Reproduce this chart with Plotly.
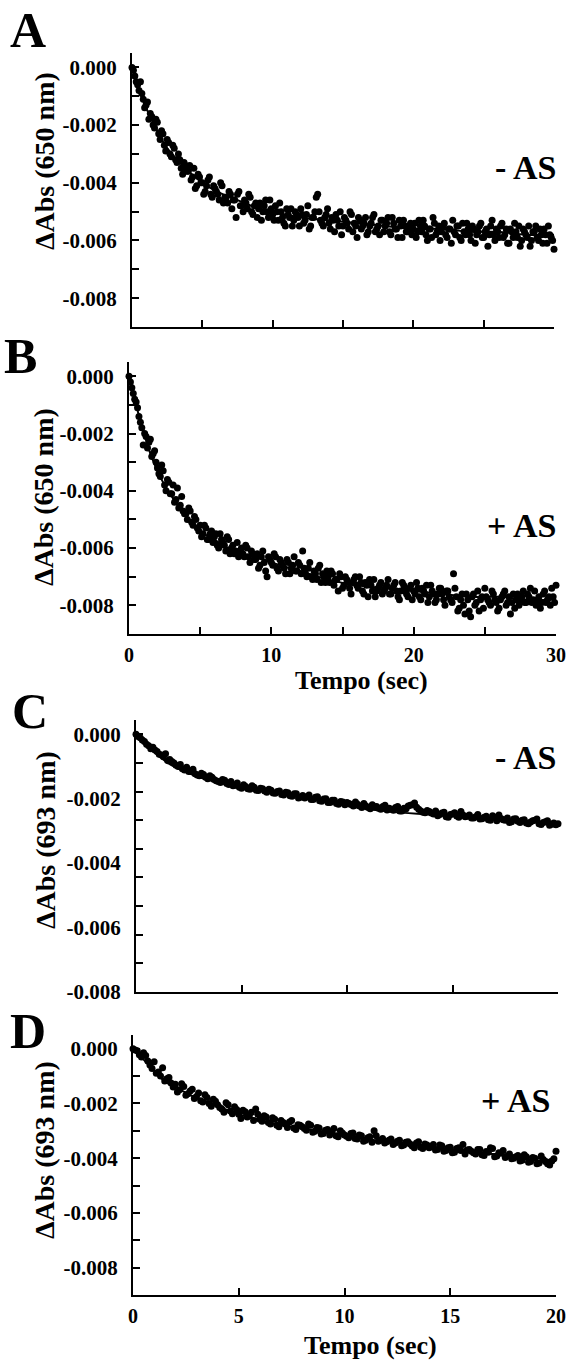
import plotly.graph_objects as go

# sampling times (s)
t_30s = [0.0, 0.2, 0.4, 0.6, 0.8, 1.0, 1.2, 1.4, 1.6, 1.8,
         2.0, 2.2, 2.4, 2.6, 2.8, 3.0, 3.2, 3.4, 3.6, 3.8,
         4.0, 4.2, 4.4, 4.6, 4.8, 5.0, 5.2, 5.4, 5.6, 5.8,
         6.0, 6.2, 6.4, 6.6, 6.8, 7.0, 7.2, 7.4, 7.6, 7.8,
         8.0, 8.2, 8.4, 8.6, 8.8, 9.0, 9.2, 9.4, 9.6, 9.8,
         10.0, 10.2, 10.4, 10.6, 10.8, 11.0, 11.2, 11.4, 11.6, 11.8,
         12.0, 12.2, 12.4, 12.6, 12.8, 13.0, 13.2, 13.4, 13.6, 13.8,
         14.0, 14.2, 14.4, 14.6, 14.8, 15.0, 15.2, 15.4, 15.6, 15.8,
         16.0, 16.2, 16.4, 16.6, 16.8, 17.0, 17.2, 17.4, 17.6, 17.8,
         18.0, 18.2, 18.4, 18.6, 18.8, 19.0, 19.2, 19.4, 19.6, 19.8,
         20.0, 20.2, 20.4, 20.6, 20.8, 21.0, 21.2, 21.4, 21.6, 21.8,
         22.0, 22.2, 22.4, 22.6, 22.8, 23.0, 23.2, 23.4, 23.6, 23.8,
         24.0, 24.2, 24.4, 24.6, 24.8, 25.0, 25.2, 25.4, 25.6, 25.8,
         26.0, 26.2, 26.4, 26.6, 26.8, 27.0, 27.2, 27.4, 27.6, 27.8,
         28.0, 28.2, 28.4, 28.6, 28.8, 29.0, 29.2, 29.4, 29.6, 29.8,
         30.0]
t_30s_odd = [0.1, 0.3, 0.5, 0.7, 0.9, 1.1, 1.3, 1.5, 1.7, 1.9,
             2.1, 2.3, 2.5, 2.7, 2.9, 3.1, 3.3, 3.5, 3.7, 3.9,
             4.1, 4.3, 4.5, 4.7, 4.9, 5.1, 5.3, 5.5, 5.7, 5.9,
             6.1, 6.3, 6.5, 6.7, 6.9, 7.1, 7.3, 7.5, 7.7, 7.9,
             8.1, 8.3, 8.5, 8.7, 8.9, 9.1, 9.3, 9.5, 9.7, 9.9,
             10.1, 10.3, 10.5, 10.7, 10.9, 11.1, 11.3, 11.5, 11.7, 11.9,
             12.1, 12.3, 12.5, 12.7, 12.9, 13.1, 13.3, 13.5, 13.7, 13.9,
             14.1, 14.3, 14.5, 14.7, 14.9, 15.1, 15.3, 15.5, 15.7, 15.9,
             16.1, 16.3, 16.5, 16.7, 16.9, 17.1, 17.3, 17.5, 17.7, 17.9,
             18.1, 18.3, 18.5, 18.7, 18.9, 19.1, 19.3, 19.5, 19.7, 19.9,
             20.1, 20.3, 20.5, 20.7, 20.9, 21.1, 21.3, 21.5, 21.7, 21.9,
             22.1, 22.3, 22.5, 22.7, 22.9, 23.1, 23.3, 23.5, 23.7, 23.9,
             24.1, 24.3, 24.5, 24.7, 24.9, 25.1, 25.3, 25.5, 25.7, 25.9,
             26.1, 26.3, 26.5, 26.7, 26.9, 27.1, 27.3, 27.5, 27.7, 27.9,
             28.1, 28.3, 28.5, 28.7, 28.9, 29.1, 29.3, 29.5, 29.7, 29.9]

t_20s = [0.0, 0.2, 0.4, 0.6, 0.8, 1.0, 1.2, 1.4, 1.6, 1.8,
         2.0, 2.2, 2.4, 2.6, 2.8, 3.0, 3.2, 3.4, 3.6, 3.8,
         4.0, 4.2, 4.4, 4.6, 4.8, 5.0, 5.2, 5.4, 5.6, 5.8,
         6.0, 6.2, 6.4, 6.6, 6.8, 7.0, 7.2, 7.4, 7.6, 7.8,
         8.0, 8.2, 8.4, 8.6, 8.8, 9.0, 9.2, 9.4, 9.6, 9.8,
         10.0, 10.2, 10.4, 10.6, 10.8, 11.0, 11.2, 11.4, 11.6, 11.8,
         12.0, 12.2, 12.4, 12.6, 12.8, 13.0, 13.2, 13.4, 13.6, 13.8,
         14.0, 14.2, 14.4, 14.6, 14.8, 15.0, 15.2, 15.4, 15.6, 15.8,
         16.0, 16.2, 16.4, 16.6, 16.8, 17.0, 17.2, 17.4, 17.6, 17.8,
         18.0, 18.2, 18.4, 18.6, 18.8, 19.0, 19.2, 19.4, 19.6, 19.8,
         20.0]
t_20s_odd = [0.1, 0.3, 0.5, 0.7, 0.9, 1.1, 1.3, 1.5, 1.7, 1.9,
             2.1, 2.3, 2.5, 2.7, 2.9, 3.1, 3.3, 3.5, 3.7, 3.9,
             4.1, 4.3, 4.5, 4.7, 4.9, 5.1, 5.3, 5.5, 5.7, 5.9,
             6.1, 6.3, 6.5, 6.7, 6.9, 7.1, 7.3, 7.5, 7.7, 7.9,
             8.1, 8.3, 8.5, 8.7, 8.9, 9.1, 9.3, 9.5, 9.7, 9.9,
             10.1, 10.3, 10.5, 10.7, 10.9, 11.1, 11.3, 11.5, 11.7, 11.9,
             12.1, 12.3, 12.5, 12.7, 12.9, 13.1, 13.3, 13.5, 13.7, 13.9,
             14.1, 14.3, 14.5, 14.7, 14.9, 15.1, 15.3, 15.5, 15.7, 15.9,
             16.1, 16.3, 16.5, 16.7, 16.9, 17.1, 17.3, 17.5, 17.7, 17.9,
             18.1, 18.3, 18.5, 18.7, 18.9, 19.1, 19.3, 19.5, 19.7, 19.9]

# measured points, 650 nm, without AS (A)
abs650_minus = [0.0000, -0.0003, -0.0006, -0.0005, -0.0011, -0.0013, -0.0018, -0.0017, -0.0021, -0.0019,
                -0.0025, -0.0023, -0.0029, -0.0026, -0.0031, -0.0028, -0.0033, -0.0032, -0.0037, -0.0034,
                -0.0036, -0.0039, -0.0035, -0.0041, -0.0038, -0.0040, -0.0043, -0.0039, -0.0044, -0.0041,
                -0.0043, -0.0046, -0.0041, -0.0045, -0.0047, -0.0044, -0.0046, -0.0052, -0.0043, -0.0048,
                -0.0046, -0.0049, -0.0045, -0.0051, -0.0047, -0.0049, -0.0053, -0.0048, -0.0050, -0.0046,
                -0.0051, -0.0048, -0.0053, -0.0050, -0.0054, -0.0049, -0.0052, -0.0055, -0.0050, -0.0052,
                -0.0049, -0.0054, -0.0051, -0.0056, -0.0052, -0.0050, -0.0044, -0.0053, -0.0055, -0.0051,
                -0.0054, -0.0052, -0.0057, -0.0053, -0.0050, -0.0055, -0.0053, -0.0056, -0.0051, -0.0054,
                -0.0059, -0.0053, -0.0055, -0.0052, -0.0057, -0.0054, -0.0051, -0.0056, -0.0058, -0.0053,
                -0.0055, -0.0052, -0.0058, -0.0054, -0.0056, -0.0053, -0.0059, -0.0055, -0.0057, -0.0054,
                -0.0056, -0.0059, -0.0053, -0.0057, -0.0055, -0.0060, -0.0056, -0.0052, -0.0058, -0.0055,
                -0.0057, -0.0054, -0.0059, -0.0056, -0.0053, -0.0058, -0.0055, -0.0060, -0.0057, -0.0054,
                -0.0058, -0.0055, -0.0061, -0.0057, -0.0054, -0.0059, -0.0056, -0.0058, -0.0053, -0.0060,
                -0.0057, -0.0055, -0.0059, -0.0056, -0.0061, -0.0057, -0.0054, -0.0059, -0.0062, -0.0056,
                -0.0058, -0.0055, -0.0060, -0.0057, -0.0059, -0.0056, -0.0061, -0.0058, -0.0055, -0.0059,
                -0.0063]
abs650_minus_odd = [-0.0001, -0.0005, -0.0008, -0.0009, -0.0014, -0.0012, -0.0016, -0.0020, -0.0018, -0.0023,
                    -0.0022, -0.0027, -0.0025, -0.0030, -0.0027, -0.0032, -0.0030, -0.0035, -0.0033, -0.0036,
                    -0.0034, -0.0038, -0.0042, -0.0037, -0.0040, -0.0044, -0.0041, -0.0038, -0.0045, -0.0042,
                    -0.0044, -0.0040, -0.0047, -0.0045, -0.0043, -0.0049, -0.0046, -0.0044, -0.0048, -0.0050,
                    -0.0047, -0.0044, -0.0050, -0.0048, -0.0052, -0.0047, -0.0050, -0.0046, -0.0052, -0.0049,
                    -0.0053, -0.0050, -0.0047, -0.0052, -0.0055, -0.0051, -0.0049, -0.0053, -0.0051, -0.0055,
                    -0.0051, -0.0053, -0.0048, -0.0055, -0.0052, -0.0045, -0.0050, -0.0054, -0.0052, -0.0049,
                    -0.0056, -0.0053, -0.0051, -0.0055, -0.0058, -0.0052, -0.0054, -0.0050, -0.0057, -0.0055,
                    -0.0052, -0.0056, -0.0054, -0.0058, -0.0055, -0.0052, -0.0057, -0.0055, -0.0053, -0.0057,
                    -0.0054, -0.0057, -0.0052, -0.0056, -0.0059, -0.0055, -0.0053, -0.0057, -0.0055, -0.0058,
                    -0.0054, -0.0057, -0.0055, -0.0053, -0.0058, -0.0056, -0.0059, -0.0054, -0.0057, -0.0060,
                    -0.0055, -0.0058, -0.0056, -0.0061, -0.0057, -0.0055, -0.0059, -0.0054, -0.0058, -0.0056,
                    -0.0060, -0.0056, -0.0058, -0.0055, -0.0059, -0.0057, -0.0062, -0.0055, -0.0058, -0.0056,
                    -0.0059, -0.0054, -0.0058, -0.0061, -0.0056, -0.0059, -0.0057, -0.0055, -0.0060, -0.0057,
                    -0.0059, -0.0062, -0.0057, -0.0055, -0.0060, -0.0058, -0.0056, -0.0061, -0.0058, -0.0060]

# measured points, 650 nm, with AS (B)
abs650_plus = [0.0000, -0.0004, -0.0008, -0.0011, -0.0016, -0.0024, -0.0021, -0.0023, -0.0028, -0.0026,
               -0.0032, -0.0035, -0.0033, -0.0040, -0.0037, -0.0041, -0.0044, -0.0039, -0.0045, -0.0047,
               -0.0048, -0.0046, -0.0051, -0.0049, -0.0053, -0.0052, -0.0055, -0.0053, -0.0057, -0.0054,
               -0.0056, -0.0059, -0.0055, -0.0058, -0.0061, -0.0057, -0.0060, -0.0062, -0.0058, -0.0061,
               -0.0062, -0.0059, -0.0063, -0.0061, -0.0064, -0.0062, -0.0066, -0.0061, -0.0068, -0.0063,
               -0.0065, -0.0062, -0.0067, -0.0064, -0.0066, -0.0069, -0.0065, -0.0067, -0.0063, -0.0068,
               -0.0066, -0.0061, -0.0069, -0.0067, -0.0070, -0.0068, -0.0071, -0.0066, -0.0069, -0.0072,
               -0.0070, -0.0068, -0.0073, -0.0071, -0.0069, -0.0074, -0.0070, -0.0072, -0.0076, -0.0071,
               -0.0073, -0.0070, -0.0075, -0.0072, -0.0077, -0.0073, -0.0071, -0.0075, -0.0073, -0.0076,
               -0.0074, -0.0071, -0.0076, -0.0073, -0.0075, -0.0078, -0.0072, -0.0075, -0.0077, -0.0073,
               -0.0075, -0.0072, -0.0077, -0.0074, -0.0076, -0.0079, -0.0073, -0.0076, -0.0078, -0.0074,
               -0.0076, -0.0080, -0.0075, -0.0078, -0.0069, -0.0077, -0.0081, -0.0076, -0.0083, -0.0078,
               -0.0084, -0.0076, -0.0079, -0.0082, -0.0077, -0.0074, -0.0078, -0.0080, -0.0076, -0.0079,
               -0.0081, -0.0077, -0.0075, -0.0079, -0.0083, -0.0076, -0.0078, -0.0080, -0.0077, -0.0079,
               -0.0076, -0.0074, -0.0078, -0.0080, -0.0077, -0.0079, -0.0075, -0.0078, -0.0080, -0.0077,
               -0.0073]
abs650_plus_odd = [-0.0002, -0.0006, -0.0009, -0.0014, -0.0018, -0.0020, -0.0025, -0.0022, -0.0027, -0.0030,
                   -0.0034, -0.0031, -0.0038, -0.0036, -0.0041, -0.0038, -0.0043, -0.0046, -0.0042, -0.0048,
                   -0.0050, -0.0047, -0.0052, -0.0050, -0.0054, -0.0056, -0.0052, -0.0057, -0.0055, -0.0058,
                   -0.0055, -0.0060, -0.0057, -0.0059, -0.0056, -0.0062, -0.0059, -0.0061, -0.0063, -0.0060,
                   -0.0063, -0.0060, -0.0065, -0.0062, -0.0064, -0.0067, -0.0063, -0.0065, -0.0070, -0.0064,
                   -0.0066, -0.0063, -0.0068, -0.0065, -0.0067, -0.0064, -0.0069, -0.0066, -0.0068, -0.0065,
                   -0.0069, -0.0067, -0.0070, -0.0065, -0.0071, -0.0069, -0.0067, -0.0072, -0.0070, -0.0068,
                   -0.0072, -0.0069, -0.0071, -0.0075, -0.0070, -0.0073, -0.0071, -0.0074, -0.0072, -0.0070,
                   -0.0074, -0.0072, -0.0076, -0.0073, -0.0071, -0.0075, -0.0077, -0.0074, -0.0072, -0.0075,
                   -0.0073, -0.0076, -0.0074, -0.0072, -0.0077, -0.0075, -0.0073, -0.0076, -0.0074, -0.0078,
                   -0.0076, -0.0074, -0.0078, -0.0075, -0.0073, -0.0077, -0.0075, -0.0079, -0.0076, -0.0074,
                   -0.0078, -0.0075, -0.0077, -0.0079, -0.0074, -0.0082, -0.0078, -0.0080, -0.0076, -0.0082,
                   -0.0077, -0.0080, -0.0075, -0.0078, -0.0081, -0.0077, -0.0079, -0.0075, -0.0078, -0.0082,
                   -0.0078, -0.0076, -0.0080, -0.0077, -0.0079, -0.0081, -0.0076, -0.0078, -0.0075, -0.0079,
                   -0.0077, -0.0079, -0.0075, -0.0078, -0.0081, -0.0076, -0.0079, -0.0077, -0.0074, -0.0079]

# measured points, 693 nm, without AS (C)
abs693_minus = [0.00000, -0.00012, -0.00025, -0.00040, -0.00045, -0.00060, -0.00072, -0.00068, -0.00088, -0.00100,
                -0.00112, -0.00120, -0.00115, -0.00130, -0.00138, -0.00145, -0.00140, -0.00155, -0.00150, -0.00162,
                -0.00168, -0.00160, -0.00175, -0.00180, -0.00170, -0.00188, -0.00182, -0.00192, -0.00185, -0.00196,
                -0.00190, -0.00202, -0.00195, -0.00206, -0.00198, -0.00212, -0.00204, -0.00216, -0.00208, -0.00220,
                -0.00222, -0.00212, -0.00228, -0.00218, -0.00234, -0.00225, -0.00238, -0.00230, -0.00244, -0.00236,
                -0.00238, -0.00245, -0.00236, -0.00250, -0.00242, -0.00256, -0.00246, -0.00252, -0.00262, -0.00248,
                -0.00258, -0.00265, -0.00252, -0.00268, -0.00260, -0.00248, -0.00240, -0.00262, -0.00272, -0.00266,
                -0.00275, -0.00268, -0.00280, -0.00272, -0.00290, -0.00278, -0.00285, -0.00270, -0.00288, -0.00282,
                -0.00292, -0.00280, -0.00295, -0.00286, -0.00300, -0.00290, -0.00282, -0.00298, -0.00292, -0.00305,
                -0.00295, -0.00308, -0.00298, -0.00312, -0.00302, -0.00296, -0.00315, -0.00305, -0.00318, -0.00310,
                -0.00312]
abs693_minus_odd = [-0.00008, -0.00020, -0.00035, -0.00050, -0.00055, -0.00070, -0.00078, -0.00092, -0.00095, -0.00108,
                    -0.00105, -0.00125, -0.00130, -0.00122, -0.00142, -0.00136, -0.00150, -0.00145, -0.00158, -0.00165,
                    -0.00158, -0.00172, -0.00165, -0.00178, -0.00185, -0.00176, -0.00190, -0.00180, -0.00195, -0.00188,
                    -0.00198, -0.00192, -0.00205, -0.00200, -0.00210, -0.00202, -0.00215, -0.00208, -0.00222, -0.00214,
                    -0.00218, -0.00228, -0.00220, -0.00232, -0.00226, -0.00238, -0.00230, -0.00242, -0.00235, -0.00246,
                    -0.00242, -0.00250, -0.00244, -0.00256, -0.00250, -0.00260, -0.00254, -0.00258, -0.00252, -0.00264,
                    -0.00262, -0.00256, -0.00268, -0.00258, -0.00250, -0.00246, -0.00255, -0.00268, -0.00274, -0.00270,
                    -0.00278, -0.00284, -0.00275, -0.00288, -0.00280, -0.00274, -0.00290, -0.00282, -0.00286, -0.00292,
                    -0.00288, -0.00296, -0.00290, -0.00298, -0.00284, -0.00302, -0.00294, -0.00300, -0.00308, -0.00296,
                    -0.00304, -0.00300, -0.00310, -0.00306, -0.00300, -0.00312, -0.00308, -0.00302, -0.00314, -0.00316]

# measured points, 693 nm, with AS (D)
abs693_plus = [0.00000, -0.00008, -0.00030, -0.00025, -0.00060, -0.00048, -0.00085, -0.00070, -0.00110, -0.00125,
               -0.00130, -0.00150, -0.00138, -0.00165, -0.00148, -0.00175, -0.00190, -0.00168, -0.00200, -0.00185,
               -0.00205, -0.00220, -0.00198, -0.00228, -0.00212, -0.00240, -0.00225, -0.00250, -0.00232, -0.00220,
               -0.00258, -0.00245, -0.00270, -0.00252, -0.00280, -0.00262, -0.00275, -0.00268, -0.00290, -0.00278,
               -0.00285, -0.00298, -0.00280, -0.00302, -0.00290, -0.00310, -0.00295, -0.00305, -0.00318, -0.00300,
               -0.00315, -0.00325, -0.00308, -0.00330, -0.00318, -0.00335, -0.00322, -0.00300, -0.00338, -0.00328,
               -0.00340, -0.00330, -0.00345, -0.00335, -0.00352, -0.00340, -0.00356, -0.00345, -0.00360, -0.00348,
               -0.00362, -0.00350, -0.00368, -0.00355, -0.00372, -0.00360, -0.00378, -0.00362, -0.00350, -0.00370,
               -0.00375, -0.00385, -0.00368, -0.00390, -0.00378, -0.00365, -0.00392, -0.00382, -0.00398, -0.00385,
               -0.00400, -0.00390, -0.00408, -0.00395, -0.00412, -0.00400, -0.00418, -0.00405, -0.00420, -0.00410,
               -0.00375]
abs693_plus_odd = [-0.00005, -0.00022, -0.00015, -0.00045, -0.00072, -0.00090, -0.00100, -0.00118, -0.00105, -0.00140,
                   -0.00158, -0.00128, -0.00170, -0.00155, -0.00182, -0.00162, -0.00195, -0.00178, -0.00210, -0.00192,
                   -0.00215, -0.00232, -0.00205, -0.00238, -0.00222, -0.00255, -0.00230, -0.00245, -0.00262, -0.00240,
                   -0.00265, -0.00250, -0.00275, -0.00258, -0.00285, -0.00270, -0.00288, -0.00262, -0.00295, -0.00280,
                   -0.00292, -0.00275, -0.00305, -0.00288, -0.00312, -0.00298, -0.00315, -0.00292, -0.00322, -0.00308,
                   -0.00320, -0.00310, -0.00328, -0.00315, -0.00338, -0.00325, -0.00342, -0.00318, -0.00335, -0.00345,
                   -0.00335, -0.00350, -0.00338, -0.00355, -0.00342, -0.00348, -0.00362, -0.00340, -0.00365, -0.00352,
                   -0.00358, -0.00370, -0.00352, -0.00375, -0.00362, -0.00380, -0.00365, -0.00372, -0.00385, -0.00368,
                   -0.00380, -0.00368, -0.00388, -0.00376, -0.00362, -0.00395, -0.00380, -0.00372, -0.00392, -0.00402,
                   -0.00395, -0.00410, -0.00388, -0.00415, -0.00398, -0.00420, -0.00392, -0.00412, -0.00425, -0.00402]

# fitted curves
fit_t_30s = [0, 0.5, 1, 1.5, 2, 2.5, 3, 4, 5, 6, 7, 8, 9, 10, 12, 14, 16, 18, 20, 22, 24, 26, 28, 30]
fit650_minus = [0, -0.0008, -0.0014, -0.0019, -0.0024, -0.0028, -0.0031, -0.0036, -0.0040, -0.0043, -0.0045,
                -0.0047, -0.0049, -0.0050, -0.0052, -0.0053, -0.0054, -0.0055, -0.0056, -0.0056, -0.0057,
                -0.0057, -0.0058, -0.0058]
fit650_plus = [0, -0.0010, -0.0019, -0.0027, -0.0033, -0.0038, -0.0042, -0.0049, -0.0054, -0.0057, -0.0060,
               -0.0062, -0.0063, -0.0065, -0.0068, -0.0071, -0.0073, -0.0074, -0.0075, -0.0076, -0.0077,
               -0.0077, -0.0078, -0.0078]
fit_t_20s = [0, 0.5, 1, 1.5, 2, 3, 4, 5, 6, 7, 8, 10, 12, 14, 16, 18, 20]
fit693_minus = [0, -0.0004, -0.0007, -0.0010, -0.0012, -0.0015, -0.0017, -0.0019, -0.0020, -0.0021, -0.0022,
                -0.0025, -0.0027, -0.0028, -0.0029, -0.0030, -0.0031]
fit693_plus = [0, -0.0004, -0.0008, -0.0012, -0.0014, -0.0018, -0.0021, -0.0024, -0.0026, -0.0028, -0.0029,
               -0.0032, -0.0034, -0.0036, -0.0038, -0.0039, -0.0041]

# ticks
y_tick_vals = [0, -0.002, -0.004, -0.006, -0.008]
y_tick_text = ["0.000", "-0.002", "-0.004", "-0.006", "-0.008"]
y_minor_vals = [0, -0.001, -0.002, -0.003, -0.004, -0.005, -0.006, -0.007, -0.008, -0.009]
# panel C labels sit off their ticks in the original figure
y_tick_vals_c = [0, -0.00223, -0.00449, -0.00676, -0.009]
x_ticks_30s = [0, 10, 20, 30]
x_minor_30s = [5, 15, 25]
x_ticks_20s = [0, 5, 10, 15, 20]

W, H = 568, 1362
SERIF = "Liberation Serif, Times New Roman, serif"
BLACK = "black"


def px(x):
    return x / W


def py(y):
    return 1 - y / H


def x_axis(dom, ya, rng, vals, minor_vals, labels):
    ax = dict(domain=dom, anchor=ya, range=rng, showline=True, linecolor=BLACK, linewidth=2,
              showgrid=False, zeroline=False, ticks="inside", ticklen=7, tickwidth=2, tickcolor=BLACK,
              tickmode="array", tickvals=vals, showticklabels=labels, ticklabelstandoff=2,
              automargin=False,
              tickfont=dict(family=SERIF, size=20, color=BLACK, weight="bold"))
    if minor_vals:
        ax["minor"] = dict(tickmode="array", tickvals=minor_vals, ticks="inside", ticklen=7,
                           tickwidth=2, tickcolor=BLACK, showgrid=False)
    return ax


def y_axis(dom, xa, vals, major_len=7):
    return dict(domain=dom, anchor=xa, range=[-0.009, 0.0005], showline=True, linecolor=BLACK,
                linewidth=2, showgrid=False, zeroline=False, ticks="inside", ticklen=major_len,
                tickwidth=2, tickcolor=BLACK, tickmode="array", tickvals=vals, ticktext=y_tick_text,
                ticklabelstandoff=9, automargin=False,
                tickfont=dict(family=SERIF, size=21, color=BLACK, weight="bold"),
                minor=dict(tickmode="array", tickvals=y_minor_vals, ticks="inside",
                           ticklen=7, tickwidth=2, tickcolor=BLACK, showgrid=False))


fig = go.Figure()

panels = [
    (t_30s + t_30s_odd, abs650_minus + abs650_minus_odd, fit_t_30s, fit650_minus, "x", "y"),
    (t_30s + t_30s_odd, abs650_plus + abs650_plus_odd, fit_t_30s, fit650_plus, "x2", "y2"),
    (t_20s + t_20s_odd, abs693_minus + abs693_minus_odd, fit_t_20s, fit693_minus, "x3", "y3"),
    (t_20s + t_20s_odd, abs693_plus + abs693_plus_odd, fit_t_20s, fit693_plus, "x4", "y4"),
]
for tx, ty, fx, fy, xa, ya in panels:
    fig.add_trace(go.Scatter(x=tx, y=ty, mode="markers", xaxis=xa, yaxis=ya, cliponaxis=False,
                             marker=dict(size=7, color=BLACK), showlegend=False))
    fig.add_trace(go.Scatter(x=fx, y=fy, mode="lines", xaxis=xa, yaxis=ya,
                             line=dict(color=BLACK, width=2, shape="spline"), showlegend=False))

fig.update_layout(
    width=W, height=H, margin=dict(l=0, r=0, t=0, b=0, autoexpand=False),
    paper_bgcolor="white", plot_bgcolor="white",
    xaxis=x_axis([px(132), px(554)], "y", [0, 30], [0, 5, 10, 15, 20, 25, 30], None, False),
    yaxis=y_axis([py(327), py(53)], "x", y_tick_vals),
    xaxis2=x_axis([px(129), px(556)], "y2", [0, 30], x_ticks_30s, x_minor_30s, True),
    yaxis2=y_axis([py(634), py(362)], "x2", y_tick_vals),
    xaxis3=x_axis([px(136), px(558)], "y3", [0, 20], x_ticks_20s, None, False),
    yaxis3=y_axis([py(992), py(720)], "x3", y_tick_vals_c, major_len=0),
    xaxis4=x_axis([px(133), px(556)], "y4", [0, 20], x_ticks_20s, None, True),
    yaxis4=y_axis([py(1295), py(1035)], "x4", y_tick_vals),
)

notes = []
# panel letters (top edge of text box given)
for letter, cx, top in [("A", 28, 0), ("B", 20, 326), ("C", 30, 681), ("D", 28, 1001)]:
    notes.append(dict(text=letter, x=px(cx), y=py(top), yanchor="top", font=dict(size=50)))
# condition labels
for lab, rx, cy in [("- AS", 558, 168), ("+ AS", 558, 525), ("- AS", 558, 757), ("+ AS", 552, 1100)]:
    notes.append(dict(text=lab, x=px(rx), y=py(cy), xanchor="right", font=dict(size=34)))
# axis titles
for lab, cx, cy in [("ΔAbs (650 nm)", 44, 161), ("ΔAbs (650 nm)", 43, 497),
                    ("ΔAbs (693 nm)", 45, 840), ("ΔAbs (693 nm)", 44, 1150)]:
    notes.append(dict(text=lab, x=px(cx), y=py(cy), textangle=-90, font=dict(size=28)))
for cx, cy in [(361, 680), (370, 1345)]:
    notes.append(dict(text="Tempo (sec)", x=px(cx), y=py(cy), font=dict(size=26)))

for n in notes:
    n.setdefault("xanchor", "center")
    n.setdefault("yanchor", "middle")
    n["font"].update(family=SERIF, color=BLACK, weight="bold")
    fig.add_annotation(xref="paper", yref="paper", showarrow=False, **n)

# page body has a default 8px margin; remove it so the figure fills the window
fig.write_html("out.html", config={"displayModeBar": False},
               post_script="document.body.style.margin = '0';")
